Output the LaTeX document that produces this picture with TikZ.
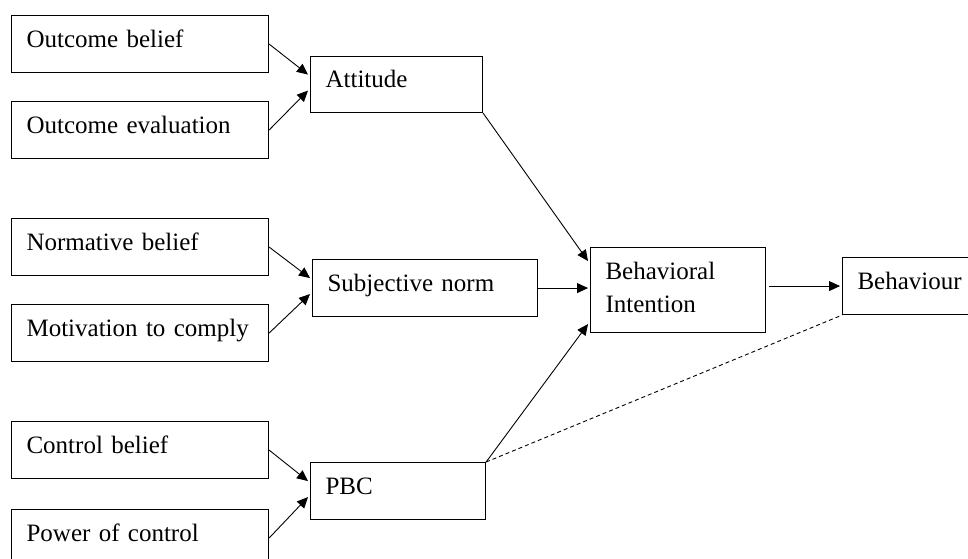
\documentclass[tikz,border=0pt]{standalone}
\usepackage{fontspec}
\setmainfont{Liberation Serif}
\usetikzlibrary{calc,arrows.meta}

\begin{document}
\begin{tikzpicture}[x=1pt,y=-1pt]
  \tikzstyle{box}=[draw, line width=1.1pt, align=left, anchor=north west, inner xsep=15pt,
    text height=15pt, text depth=9pt, font=\fontsize{25}{33}\selectfont]
  \tikzstyle{directed}=[-{Triangle[length=11pt,width=10pt]}, line width=0.9pt]
  \useasboundingbox (0,0) rectangle (968,558);
  \clip (0,0) rectangle (968,558);
  \foreach \n/\y/\t in {ob/15/Outcome belief, oe/101/Outcome evaluation,
      nb/218/Normative belief, mc/304/Motivation to comply,
      cb/421/Control belief, pc/509/Power of control} {
    \node[box, text width=227pt, minimum height=57pt] (\n) at (11,\y) {\t};
  }
  \node[box, text width=142pt, minimum height=56pt] (att) at (310,56) {Attitude};
  \node[box, text width=195pt, minimum height=57pt] (sn) at (312,259) {Subjective norm};
  \node[box, text width=145pt, minimum height=57pt] (pbc) at (310,462) {PBC};
  \node[box, text width=145pt, minimum height=85pt, text height=, text depth=38pt] (bi) at (590,247) {Behavioral\\Intention};
  \node[box, text width=140pt, minimum height=57pt] (bh) at (842,257) {Behaviour};
  \foreach \a/\b/\c in {ob/oe/att, nb/mc/sn, cb/pc/pbc} {
    \draw[directed] (\a.east) -- ($(\c.west)+(-2,-10)$);
    \draw[directed] (\b.east) -- ($(\c.west)+(-2,6)$);
  }
  \draw[directed] (att.south east) -- ($(bi.west)+(-2,-29)$);
  \draw[directed] (sn.east) -- ($(bi.west)+(-2,-2)$);
  \draw[directed] (pbc.north east) -- ($(bi.west)+(-2,34)$);
  \draw[directed] ($(bi.east)+(3,-4)$) -- ($(bh.west)+(-2,0)$);
  \draw[line width=0.9pt, dash pattern=on 4pt off 3pt] (pbc.north east) -- (bh.south west);
\end{tikzpicture}
\end{document}
